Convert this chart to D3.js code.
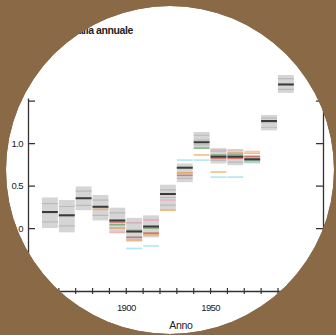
<!DOCTYPE html>
<html>
<head>
<meta charset="utf-8">
<script src="https://cdn.jsdelivr.net/npm/d3@7/dist/d3.min.js"></script>
<style>
  html, body { margin: 0; padding: 0; background: #8a6a46; }
  svg { display: block; }
  .lbl { font-family: "Liberation Sans", sans-serif; fill: #222; }
</style>
</head>
<body>
<svg id="chart" width="336" height="335"></svg>
<script>
// Decade start years
const decades = [1850, 1860, 1870, 1880, 1890, 1900, 1910, 1920, 1930, 1940, 1950, 1960, 1970, 1980, 1990];
// Decadal anomaly: central estimate and uncertainty range
const medians = [0.19, 0.15, 0.35, 0.25, 0.09, -0.04, 0.02, 0.40, 0.71, 1.01, 0.84, 0.84, 0.81, 1.26, 1.69];
const lows    = [0.00, -0.05, 0.21, 0.09, -0.06, -0.16, -0.11, 0.21, 0.54, 0.94, 0.76, 0.74, 0.76, 1.15, 1.59];
const highs   = [0.36, 0.33, 0.49, 0.39, 0.24, 0.12, 0.15, 0.51, 0.76, 1.13, 0.94, 0.92, 0.86, 1.33, 1.80];

// Individual datasets (null where missing)
const serieOrange = [null, null, null, 0.22, 0.00, -0.14, -0.08, 0.21, 0.65, 0.86, 0.66, 0.88, 0.88, null, null];
const serieRed    = [null, null, null, null, 0.07, -0.11, -0.06, null, 0.62, null, 0.82, 0.82, 0.84, null, null];
const serieGreen  = [null, null, null, null, 0.04, -0.04, 0.00, null, null, 0.94, 0.86, 0.86, 0.80, null, null];
const serieCyan   = [null, null, null, null, null, -0.24, -0.21, null, 0.80, 0.80, 0.60, 0.60, 0.78, null, null];
const seriePink   = [null, null, null, null, -0.05, 0.06, 0.09, 0.33, null, null, 0.92, 0.92, 0.90, null, null];
const seriesList = [
  { values: serieCyan,   color: "#8fdcec" },
  { values: seriePink,   color: "#f2a9b8" },
  { values: serieGreen,  color: "#5e9e5e" },
  { values: serieRed,    color: "#d0584e" },
  { values: serieOrange, color: "#f0a24a" }
];

// Axis ticks and labels
const yTicks = [-0.5, 0, 0.5, 1.0, 1.5];
const yTickLabels = ["-0.5", "0", "0.5", "1.0", "1.5"];
const xTicks = d3.range(1850, 2011, 10);
const xLabelYears = [1850, 1900, 1950, 2000];
const titleText = "Anomalia annuale";
const xTitle = "Anno";

const svg = d3.select("#chart");
const W = 336, H = 335;
const cx = 170, cy = 170, r = 164;

svg.append("rect").attr("width", W).attr("height", H).attr("fill", "#8a6a46");

svg.append("defs").append("clipPath").attr("id", "disc")
  .append("circle").attr("cx", cx).attr("cy", cy).attr("r", r);

const g = svg.append("g").attr("clip-path", "url(#disc)");
g.append("circle").attr("cx", cx).attr("cy", cy).attr("r", r).attr("fill", "#ffffff");

const x = d3.scaleLinear().domain([1842, 2017]).range([28, 323]);
const y = d3.scaleLinear().domain([-0.74, 1.53]).range([291, 98]);

// Title
g.append("text").attr("class", "lbl")
  .attr("x", 133).attr("y", 34)
  .attr("text-anchor", "end")
  .attr("font-size", 10.5).attr("font-weight", "bold")
  .attr("letter-spacing", -0.4)
  .text(titleText);

// Uncertainty boxes
const boxes = g.append("g");
decades.forEach((d, i) => {
  const x0 = x(d) + 0.5, x1 = x(d + 10) - 0.5;
  boxes.append("rect")
    .attr("x", x0).attr("width", x1 - x0)
    .attr("y", y(highs[i])).attr("height", y(lows[i]) - y(highs[i]))
    .attr("fill", "#d0d0d0").attr("opacity", 0.9);
  [0.2, 0.5, 0.8].forEach(f => {
    const v = lows[i] + f * (highs[i] - lows[i]);
    boxes.append("line")
      .attr("x1", x0).attr("x2", x1)
      .attr("y1", y(v)).attr("y2", y(v))
      .attr("stroke", "#bababa").attr("stroke-width", 1.2);
  });
});

// Dataset segments
seriesList.forEach(s => {
  s.values.forEach((v, i) => {
    if (v === null) return;
    g.append("line")
      .attr("x1", x(decades[i]) + 0.5).attr("x2", x(decades[i] + 10) - 0.5)
      .attr("y1", y(v)).attr("y2", y(v))
      .attr("stroke", s.color).attr("stroke-width", 1.6).attr("opacity", 0.7);
  });
});

// Central estimates
decades.forEach((d, i) => {
  g.append("line")
    .attr("x1", x(d) + 0.5).attr("x2", x(d + 10) - 0.5)
    .attr("y1", y(medians[i])).attr("y2", y(medians[i]))
    .attr("stroke", "#3a3a3a").attr("stroke-width", 2);
});

// Left axis
const yLeft = g.append("g").attr("transform", `translate(${x(1842)},0)`)
  .call(d3.axisLeft(y).tickValues(yTicks)
    .tickFormat((d, i) => yTickLabels[i])
    .tickSize(-7).tickSizeOuter(0).tickPadding(5));
// the top label sits just past the disc edge
yLeft.selectAll(".tick").filter(d => d === 1.5).select("text").attr("x", -8);
// Right axis (labels fall outside the disc)
const yRight = g.append("g").attr("transform", `translate(${x(2017)},0)`)
  .call(d3.axisRight(y).tickValues(yTicks)
    .tickFormat((d, i) => yTickLabels[i])
    .tickSize(-7).tickSizeOuter(0).tickPadding(10));
// Bottom axis
const xAxis = g.append("g").attr("transform", `translate(0,${y(-0.74)})`)
  .call(d3.axisBottom(x).tickValues(xTicks)
    .tickFormat(d => xLabelYears.includes(d) ? String(d) : "")
    .tickSize(3).tickSizeOuter(0).tickPadding(10));
xAxis.selectAll(".tick").append("line").attr("y2", -3).attr("stroke", "#333");

[yLeft, yRight, xAxis].forEach(a => {
  a.selectAll("path.domain").attr("stroke", "#333").attr("stroke-width", 1.3);
  a.selectAll(".tick line").attr("stroke", "#333").attr("stroke-width", 1.2);
  a.selectAll("text").attr("class", "lbl").attr("font-size", 9.5)
    .attr("letter-spacing", -0.6).attr("fill", "#222");
});

// Axis title
g.append("text").attr("class", "lbl")
  .attr("x", 181).attr("y", 329)
  .attr("text-anchor", "middle")
  .attr("font-size", 10.5).attr("letter-spacing", -0.3)
  .text(xTitle);
</script>
</body>
</html>
